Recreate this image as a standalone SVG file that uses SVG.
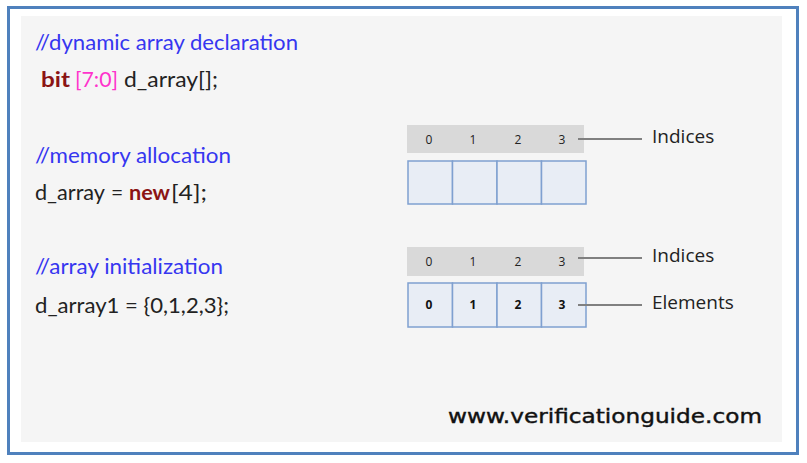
<svg xmlns="http://www.w3.org/2000/svg" width="807" height="463" viewBox="0 0 807 463">
<style>
.code{font-family:Lato,"Open Sans","Liberation Sans",sans-serif;font-size:21px;fill:#222}
.cmt{fill:#3636F0}
.kw{fill:#8B1414;font-weight:bold}
.rng{fill:#FF33CC}
.idx{font-family:"Open Sans","Liberation Sans",sans-serif;font-size:12px;fill:#222;text-anchor:middle}
.el{font-family:"Open Sans","Liberation Sans",sans-serif;font-size:12px;font-weight:bold;fill:#111;text-anchor:middle}
.lbl{font-family:"Open Sans","Liberation Sans",sans-serif;font-size:19px;fill:#222}
.hdr{fill:#D9D9D9}
.cell{fill:#E8EDF5;stroke:#7FA0D0;stroke-width:1.5}
.conn{stroke:#808080;stroke-width:2;fill:none}
</style>
<rect x="0" y="0" width="807" height="463" fill="#FFFFFF"/>
<g id="frame">
<rect x="8.5" y="7.5" width="789" height="446" fill="#FFFFFF" stroke="#4F81BD" stroke-width="3"/>
<rect x="21" y="16" width="761" height="426" fill="#F5F5F5"/>
</g>
<g id="code">
<text class="code cmt" x="35" y="50" textLength="263" lengthAdjust="spacingAndGlyphs">//dynamic array declaration</text>
<text class="code" y="87"><tspan class="kw" x="41" textLength="29" lengthAdjust="spacingAndGlyphs">bit</tspan><tspan class="rng" x="75" textLength="43" lengthAdjust="spacingAndGlyphs">[7:0]</tspan><tspan x="124" textLength="94" lengthAdjust="spacingAndGlyphs">d_array[];</tspan></text>
<text class="code cmt" x="35" y="163" textLength="196" lengthAdjust="spacingAndGlyphs">//memory allocation</text>
<text class="code" y="200"><tspan x="35" textLength="70" lengthAdjust="spacingAndGlyphs">d_array</tspan><tspan x="111">=</tspan><tspan class="kw" x="129" textLength="41" lengthAdjust="spacingAndGlyphs">new</tspan><tspan x="171" textLength="36" lengthAdjust="spacingAndGlyphs">[4];</tspan></text>
<text class="code cmt" x="35" y="274" textLength="188" lengthAdjust="spacingAndGlyphs">//array initialization</text>
<text class="code" x="35" y="313" textLength="194" lengthAdjust="spacingAndGlyphs">d_array1 = {0,1,2,3};</text>
</g>
<g id="array1">
<rect class="hdr" x="407" y="125" width="177" height="28"/>
<text class="idx" x="429" y="144">0</text>
<text class="idx" x="473" y="144">1</text>
<text class="idx" x="518" y="144">2</text>
<text class="idx" x="562" y="144">3</text>
<rect class="cell" x="408" y="161" width="44.5" height="43"/>
<rect class="cell" x="452.5" y="161" width="44.5" height="43"/>
<rect class="cell" x="497" y="161" width="44.5" height="43"/>
<rect class="cell" x="541.5" y="161" width="44.5" height="43"/>
</g>
<g id="array2">
<rect class="hdr" x="407" y="247" width="177" height="29"/>
<text class="idx" x="429" y="266">0</text>
<text class="idx" x="473" y="266">1</text>
<text class="idx" x="518" y="266">2</text>
<text class="idx" x="562" y="266">3</text>
<rect class="cell" x="408" y="283" width="44.5" height="44"/>
<rect class="cell" x="452.5" y="283" width="44.5" height="44"/>
<rect class="cell" x="497" y="283" width="44.5" height="44"/>
<rect class="cell" x="541.5" y="283" width="44.5" height="44"/>
<text class="el" x="429" y="309">0</text>
<text class="el" x="473" y="309">1</text>
<text class="el" x="518" y="309">2</text>
<text class="el" x="562" y="309">3</text>
</g>
<g id="connectors">
<line class="conn" x1="578" y1="139" x2="642" y2="139"/>
<line class="conn" x1="578" y1="258" x2="642" y2="258"/>
<line class="conn" x1="578" y1="305" x2="642" y2="305"/>
</g>
<g id="labels">
<text class="lbl" x="652" y="143">Indices</text>
<text class="lbl" x="652" y="262">Indices</text>
<text class="lbl" x="652" y="309">Elements</text>
</g>
<g id="watermark">
<text x="448" y="423" font-family="'DejaVu Sans',Verdana,sans-serif" font-size="19" fill="#111" stroke="#111" stroke-width="0.4" textLength="314" lengthAdjust="spacingAndGlyphs">www.verificationguide.com</text>
</g>
</svg>
